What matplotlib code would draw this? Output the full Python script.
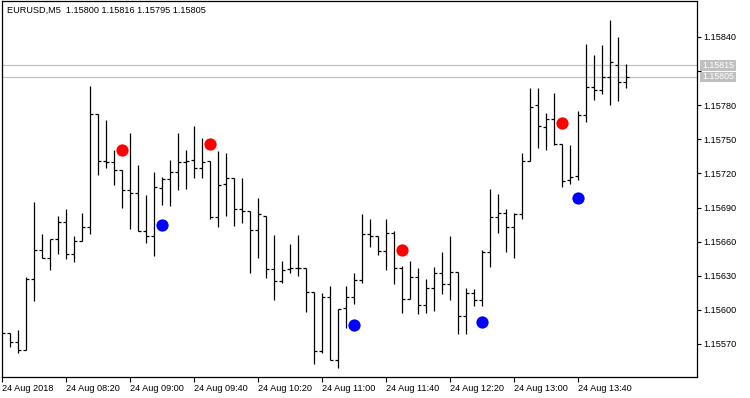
import matplotlib
matplotlib.use("Agg")
import matplotlib.pyplot as plt
from matplotlib.patches import Rectangle
import numpy as np

# ---- data (EURUSD M5, 24 Aug 2018) ----
opens = [1.15580, 1.15580, 1.15572, 1.15565, 1.15627, 1.15653, 1.15646, 1.15662, 1.15677, 1.15649,
         1.15661, 1.15673, 1.15772, 1.15731, 1.15730, 1.15723, 1.15705, 1.15703, 1.15669, 1.15665,
         1.15707, 1.15715, 1.15721, 1.15730, 1.15732, 1.15725, 1.15731, 1.15682, 1.15711, 1.15716,
         1.15689, 1.15687, 1.15670, 1.15683, 1.15636, 1.15625, 1.15636, 1.15637, 1.15637, 1.15616,
         1.15564, 1.15611, 1.15556, 1.15602, 1.15611, 1.15626, 1.15667, 1.15665, 1.15652, 1.15668,
         1.15637, 1.15610, 1.15629, 1.15604, 1.15619, 1.15632, 1.15623, 1.15633, 1.15595, 1.15615,
         1.15609, 1.15651, 1.15682, 1.15685, 1.15673, 1.15684, 1.15731, 1.15780, 1.15761, 1.15768,
         1.15746, 1.15714, 1.15718, 1.15771, 1.15796, 1.15793, 1.15805, 1.15815, 1.15800]
highs = [1.15580, 1.15580, 1.15582, 1.15629, 1.15695, 1.15667, 1.15662, 1.15683, 1.15689, 1.15665,
         1.15685, 1.15797, 1.15772, 1.15767, 1.15741, 1.15723, 1.15756, 1.15727, 1.15701, 1.15721,
         1.15717, 1.15732, 1.15756, 1.15741, 1.15762, 1.15751, 1.15731, 1.15740, 1.15738, 1.15716,
         1.15716, 1.15687, 1.15698, 1.15683, 1.15666, 1.15643, 1.15658, 1.15666, 1.15637, 1.15616,
         1.15615, 1.15621, 1.15601, 1.15621, 1.15632, 1.15684, 1.15680, 1.15665, 1.15680, 1.15669,
         1.15639, 1.15643, 1.15637, 1.15627, 1.15638, 1.15651, 1.15665, 1.15633, 1.15619, 1.15618,
         1.15653, 1.15706, 1.15702, 1.15689, 1.15685, 1.15738, 1.15795, 1.15795, 1.15773, 1.15791,
         1.15746, 1.15745, 1.15775, 1.15834, 1.15824, 1.15833, 1.15855, 1.15840, 1.15816]
lows = [1.15580, 1.15567, 1.15562, 1.15565, 1.15608, 1.15646, 1.15635, 1.15649, 1.15645, 1.15642,
        1.15661, 1.15667, 1.15719, 1.15725, 1.15710, 1.15690, 1.15671, 1.15669, 1.15659, 1.15647,
        1.15692, 1.15691, 1.15705, 1.15706, 1.15716, 1.15716, 1.15680, 1.15673, 1.15683, 1.15674,
        1.15676, 1.15632, 1.15646, 1.15628, 1.15609, 1.15624, 1.15632, 1.15630, 1.15598, 1.15552,
        1.15562, 1.15556, 1.15549, 1.15584, 1.15605, 1.15624, 1.15655, 1.15648, 1.15635, 1.15623,
        1.15597, 1.15610, 1.15596, 1.15597, 1.15599, 1.15614, 1.15609, 1.15579, 1.15579, 1.15603,
        1.15603, 1.15638, 1.15668, 1.15651, 1.15646, 1.15680, 1.15731, 1.15742, 1.15741, 1.15745,
        1.15708, 1.15711, 1.15714, 1.15765, 1.15785, 1.15790, 1.15780, 1.15784, 1.15795]
closes = [1.15580, 1.15572, 1.15565, 1.15627, 1.15653, 1.15646, 1.15662, 1.15677, 1.15649, 1.15661,
          1.15673, 1.15772, 1.15731, 1.15730, 1.15723, 1.15705, 1.15703, 1.15669, 1.15665, 1.15708,
          1.15715, 1.15721, 1.15730, 1.15731, 1.15725, 1.15730, 1.15682, 1.15710, 1.15716, 1.15689,
          1.15687, 1.15670, 1.15684, 1.15636, 1.15625, 1.15635, 1.15637, 1.15637, 1.15616, 1.15564,
          1.15611, 1.15556, 1.15601, 1.15611, 1.15626, 1.15667, 1.15665, 1.15652, 1.15668, 1.15637,
          1.15610, 1.15629, 1.15604, 1.15619, 1.15632, 1.15623, 1.15633, 1.15595, 1.15615, 1.15609,
          1.15651, 1.15682, 1.15685, 1.15673, 1.15684, 1.15731, 1.15778, 1.15762, 1.15768, 1.15746,
          1.15713, 1.15717, 1.15771, 1.15796, 1.15793, 1.15805, 1.15818, 1.15800, 1.15805]

sell_idx = [15, 26, 50, 70]
sell_price = [1.15741, 1.15746, 1.15653, 1.15764]
buy_idx = [20, 44, 60, 72]
buy_price = [1.15675, 1.15587, 1.15589, 1.15698]

time_tick_idx = [0, 8, 16, 24, 32, 40, 48, 56, 64, 72]
time_tick_labels = ["24 Aug 2018", "24 Aug 08:20", "24 Aug 09:00", "24 Aug 09:40",
                    "24 Aug 10:20", "24 Aug 11:00", "24 Aug 11:40", "24 Aug 12:20",
                    "24 Aug 13:00", "24 Aug 13:40"]
price_ticks = [1.15570, 1.15600, 1.15630, 1.15660, 1.15690, 1.15720, 1.15750, 1.15780, 1.15810, 1.15840]
ask_price = 1.15815
bid_price = 1.15805
title_text = "EURUSD,M5  1.15800 1.15816 1.15795 1.15805"

# ---- figure ----
W, H = 750, 398
fig = plt.figure(figsize=(W / 100, H / 100), dpi=100)
fig.patch.set_facecolor("white")
ax = fig.add_axes([2 / W, 1 - 377 / H, 695 / W, 376 / H])
ax.set_facecolor("white")

font = "Liberation Sans"
fs = 6.6

idx = np.arange(len(opens))
lw = 0.9
tick = 0.375
ax.vlines(idx, lows, highs, color="black", lw=lw, zorder=3)
ax.hlines(opens, idx - tick, idx, color="black", lw=lw, zorder=3)
ax.hlines(closes, idx, idx + tick, color="black", lw=lw, zorder=3)

ax.axhline(ask_price, color="#c0c0c0", lw=0.9, zorder=2)
ax.axhline(bid_price, color="#c0c0c0", lw=0.9, zorder=2)

ax.scatter(sell_idx, sell_price, s=78, color="#ff0000", zorder=4, linewidths=0)
ax.scatter(buy_idx, buy_price, s=78, color="#0000ff", zorder=4, linewidths=0)

ax.set_xlim(0, 695 / 8)
px = 0.0003 / 34.11
ax.set_ylim(1.15840 - 340 * px, 1.15840 + 36 * px)

ax.yaxis.tick_right()
ax.set_yticks(price_ticks)
# the 1.15810 label sits behind the bid/ask price boxes in the reference
ylabels = [("" if abs(p - 1.15810) < 1e-9 else f"{p:.5f}") for p in price_ticks]
ax.set_yticklabels(ylabels, fontsize=fs, family=font)
ax.tick_params(axis="y", direction="out", length=3, width=0.8, pad=1.5, colors="black")

ax.set_xticks(time_tick_idx)
ax.set_xticklabels(time_tick_labels, fontsize=fs, family=font)
for lbl in ax.get_xticklabels():
    lbl.set_ha("left")
ax.tick_params(axis="x", direction="out", length=3.6, width=0.8, pad=1.5, colors="black")

for sp in ax.spines.values():
    sp.set_color("black")
    sp.set_linewidth(0.9)

# bid/ask price boxes on the right axis (position derived from the data transform)
for p in (ask_price, bid_price):
    ydisp = ax.transData.transform((0, p))[1]
    x0, bw, bh = 700, 36, 10.5
    fig.patches.append(Rectangle((x0 / W, (ydisp - bh / 2) / H), bw / W, bh / H,
                                 transform=fig.transFigure, facecolor="#c0c0c0",
                                 edgecolor="none", zorder=10))
    fig.text((x0 + bw / 2) / W, ydisp / H, f"{p:.5f}", ha="center", va="center",
             fontsize=6.3, family=font, color="white", zorder=11)

ax.text(0.007, 0.975, title_text, transform=ax.transAxes, fontsize=fs, family=font,
        ha="left", va="center", color="black")

fig.savefig("out.png", dpi=100)
